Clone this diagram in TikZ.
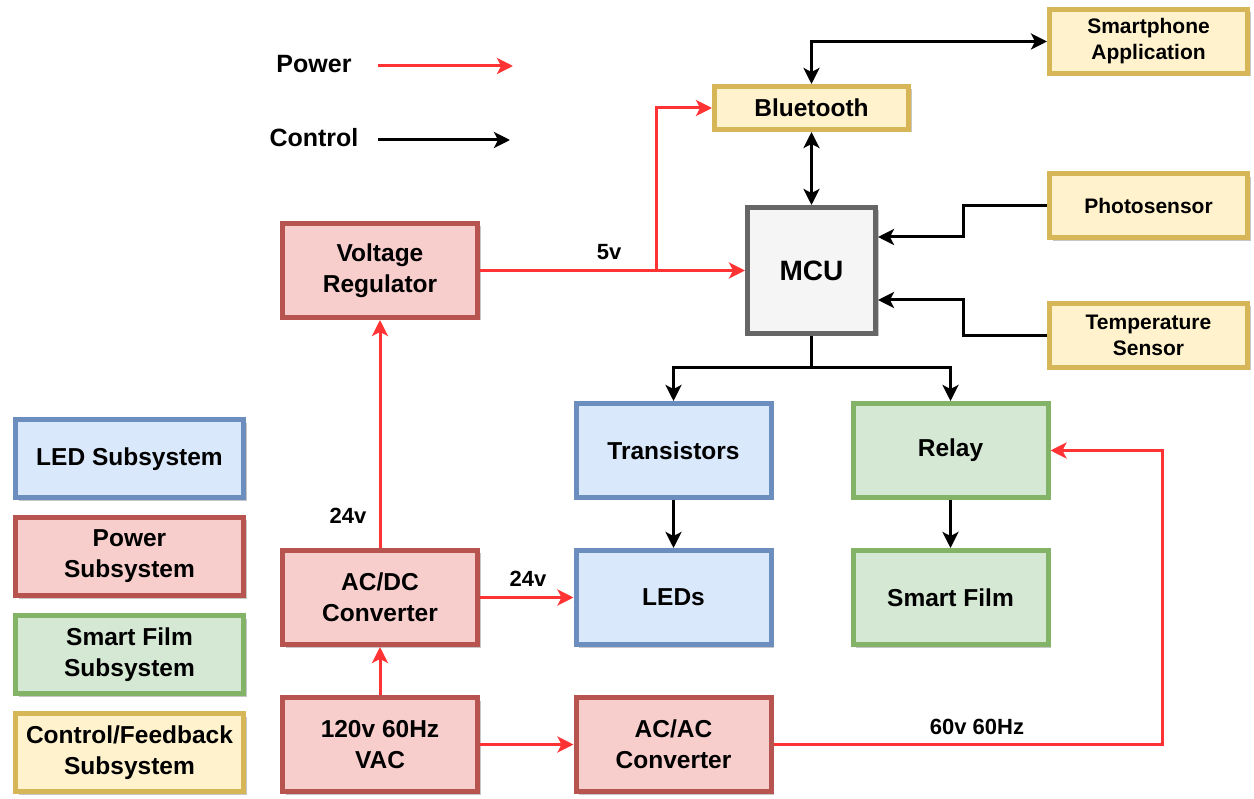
\documentclass[tikz,border=0pt]{standalone}
\usepackage{fontspec}
\setmainfont{Liberation Sans}
\usetikzlibrary{arrows.meta,shadows}
\definecolor{bluefill}{HTML}{DAE8FC}
\definecolor{bluedraw}{HTML}{6C8EBF}
\definecolor{redfill}{HTML}{F8CECC}
\definecolor{reddraw}{HTML}{B85450}
\definecolor{greenfill}{HTML}{D5E8D4}
\definecolor{greendraw}{HTML}{82B366}
\definecolor{yelfill}{HTML}{FFF2CC}
\definecolor{yeldraw}{HTML}{D6B656}
\definecolor{greyfill}{HTML}{F5F5F5}
\definecolor{greydraw}{HTML}{666666}
\definecolor{pwrred}{HTML}{FF3333}
\tikzset{
  box/.style={draw, rectangle, line width=5pt, align=center, inner sep=0pt,
    font=\bfseries\fontsize{24.5}{31}\selectfont,
    drop shadow={shadow xshift=3pt, shadow yshift=-3pt, opacity=0.22, fill=black}},
  ledbox/.style={box, fill=bluefill, draw=bluedraw},
  pwrbox/.style={box, fill=redfill, draw=reddraw},
  filmbox/.style={box, fill=greenfill, draw=greendraw},
  ctlbox/.style={box, fill=yelfill, draw=yeldraw},
  mcubox/.style={box, fill=greyfill, draw=greydraw},
  bigbox/.style={minimum width=195pt, minimum height=94pt},
  sidebox/.style={minimum width=198pt, minimum height=64pt, font=\bfseries\fontsize{21}{26}\selectfont},
  legbox/.style={minimum width=228pt, minimum height=78pt},
  tip/.style={-{Stealth[length=16pt,width=16pt,inset=4pt]}},
  pwr/.style={draw=pwrred, line width=3pt, tip},
  ctrl/.style={draw=black, line width=3pt, tip},
  ctrlboth/.style={draw=black, line width=3pt, {Stealth[length=16pt,width=16pt,inset=4pt]}-{Stealth[length=16pt,width=16pt,inset=4pt]}},
  lbl/.style={font=\bfseries\fontsize{22}{26}\selectfont, inner sep=0pt},
  legtxt/.style={font=\bfseries\fontsize{25}{30}\selectfont, inner sep=0pt},
}
\begin{document}
\begin{tikzpicture}[x=1pt,y=-1pt]
\fill[white] (0,0) rectangle (1254,799);
\useasboundingbox (0,0) rectangle (1254,799);

% legend arrows
\node[legtxt] (lpow) at (314,64) {Power};
\node[legtxt] (lctl) at (314,138) {Control};
\coordinate (lp1) at (378,66);
\coordinate (lp2) at (513,66);
\coordinate (lc1) at (378,140);
\coordinate (lc2) at (510,140);
\draw[pwr] (lp1) -- (lp2);
\draw[ctrl] (lc1) -- (lc2);

% nodes
\node[ctlbox, sidebox] (sp) at (1148.5,41.5) {Smartphone\\Application};
\node[ctlbox, minimum width=194pt, minimum height=43pt] (bt) at (811.5,108) {Bluetooth};
\node[ctlbox, sidebox] (ph) at (1148.5,206) {Photosensor};
\node[ctlbox, sidebox] (ts) at (1148.5,335.5) {Temperature\\Sensor};
\node[mcubox, minimum width=128pt, minimum height=126pt, font=\bfseries\fontsize{28}{32}\selectfont] (mcu) at (811.5,270.5) {MCU};
\node[pwrbox, bigbox] (vr) at (380,270.5) {Voltage\\Regulator};
\node[ledbox, bigbox] (tr) at (673.5,450.5) {Transistors};
\node[filmbox, bigbox] (rl) at (950.5,450.5) {Relay};
\node[ledbox, bigbox] (led) at (673.5,597.5) {LEDs};
\node[filmbox, bigbox] (sf) at (950.5,597.5) {Smart Film};
\node[pwrbox, bigbox] (acdc) at (380,597.5) {AC/DC\\Converter};
\node[pwrbox, bigbox] (vac) at (380,744.5) {120v 60Hz\\VAC};
\node[pwrbox, bigbox] (acac) at (673.5,744.5) {AC/AC\\Converter};

% legend boxes
\node[ledbox, legbox] (lg1) at (129.5,459) {LED Subsystem};
\node[pwrbox, legbox] (lg2) at (129.5,556.5) {Power\\Subsystem};
\node[filmbox, legbox] (lg3) at (129.5,654.5) {Smart Film\\Subsystem};
\node[ctlbox, legbox] (lg4) at (129.5,752.5) {Control/Feedback\\Subsystem};

% control connectors
\draw[ctrlboth] (bt.north) |- (sp.west);
\draw[ctrlboth] (bt.south) -- (mcu.north);
\draw[ctrl] (ph.west) -| (963,237) -- (mcu.east |- 963,237);
\draw[ctrl] (ts.west) -| (963,300) -- (mcu.east |- 963,300);
\coordinate (split) at (811.5,368);
\draw[ctrl] (mcu.south) -- (split) -| (tr.north);
\draw[ctrl] (split) -| (rl.north);
\draw[ctrl] (tr.south) -- (led.north);
\draw[ctrl] (rl.south) -- (sf.north);

% power connectors
\draw[pwr] (vr.east) -- (mcu.west);
\coordinate (br) at (656,270.5);
\draw[pwr] (br) |- (bt.west);
\node[lbl] (l5v) at (609,252) {5v};
\draw[pwr] (acdc.north) -- (vr.south);
\node[lbl] (l24a) at (348,516) {24v};
\draw[pwr] (acdc.east) -- (led.west);
\node[lbl] (l24b) at (528,579) {24v};
\draw[pwr] (vac.north) -- (acdc.south);
\draw[pwr] (vac.east) -- (acac.west);
\coordinate (rc) at (1162,744.5);
\draw[pwr] (acac.east) -- (rc) |- (rl.east);
\node[lbl] (l60) at (977,727) {60v 60Hz};
\end{tikzpicture}
\end{document}
